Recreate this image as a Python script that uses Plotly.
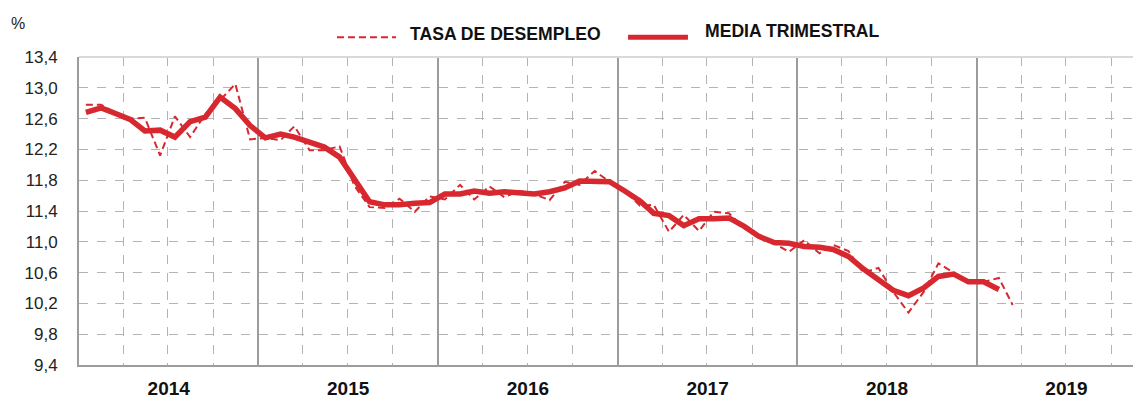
import pandas as pd
import plotly.graph_objects as go

# ---- data ----
start_month = "2014-01-01"
tasa_desempleo = [
    12.78, 12.78, 12.68, 12.60, 12.61, 12.12, 12.63, 12.36, 12.66, 12.84, 13.05, 12.33,
    12.35, 12.32, 12.50, 12.19, 12.19, 12.24, 11.73, 11.45, 11.44, 11.56, 11.39, 11.59,
    11.55, 11.74, 11.55, 11.72, 11.58, 11.66, 11.62, 11.54, 11.78, 11.74, 11.92, 11.78,
    11.66, 11.47, 11.48, 11.13, 11.35, 11.14, 11.39, 11.37, 11.18, 11.05, 10.98, 10.87,
    11.02, 10.85, 10.96, 10.88, 10.60, 10.66, 10.35, 10.08, 10.35, 10.72, 10.60, 10.46,
    10.48, 10.53, 10.18,
]
media_trimestral = [
    12.68, 12.74, 12.67, 12.59, 12.44, 12.45, 12.36, 12.56, 12.62, 12.88, 12.73, 12.51,
    12.35, 12.40, 12.36, 12.30, 12.23, 12.10, 11.80, 11.52, 11.48, 11.48, 11.50, 11.51,
    11.62, 11.62, 11.66, 11.63, 11.65, 11.63, 11.62, 11.65, 11.70, 11.79, 11.79, 11.78,
    11.66, 11.53, 11.37, 11.34, 11.21, 11.30, 11.30, 11.31, 11.20, 11.07, 10.99, 10.98,
    10.94, 10.93, 10.90, 10.81, 10.65, 10.50, 10.37, 10.30, 10.40, 10.55, 10.58, 10.48,
    10.48, 10.38,
]
y_min, y_max, y_step = 9.4, 13.4, 0.4
x_range = ["2014-01-01", "2019-12-01"]
series_names = ["TASA DE DESEMPLEO", "MEDIA TRIMESTRAL"]
unit_label = "%"

RED = "#D7282F"
GRID = "#b3b3b3"
AXIS = "#9c9c9c"
FONT = "Liberation Sans, Arial, sans-serif"


def mid_months(n):
    return pd.date_range(start_month, periods=n, freq="MS") + pd.Timedelta(days=14)


fig = go.Figure()
fig.add_trace(go.Scatter(
    x=mid_months(len(tasa_desempleo)), y=tasa_desempleo, mode="lines",
    name=series_names[0], line=dict(color=RED, width=2, dash="7px,4px"),
))
fig.add_trace(go.Scatter(
    x=mid_months(len(media_trimestral)), y=media_trimestral, mode="lines",
    name=series_names[1], line=dict(color=RED, width=5.5),
))

# page body has an 8px margin: figure is sized to fit inside the window
fig.update_layout(
    width=1133, height=392,
    margin=dict(l=71, r=0, t=49, b=35, autoexpand=False),
    paper_bgcolor="white", plot_bgcolor="white",
    separators=",.",
    showlegend=False,
    font=dict(family=FONT, color="#222222"),
)
fig.update_xaxes(
    type="date", range=x_range,
    tick0="2014-01-01", dtick="M12", ticklabelmode="period", tickformat="%Y",
    tickfont=dict(family=FONT, size=19, weight="bold", color="#111111"),
    showgrid=True, gridcolor=AXIS, gridwidth=2,
    minor=dict(dtick="M3", showgrid=True, gridcolor=GRID, griddash="dash", gridwidth=1),
    showline=True, linecolor=AXIS, linewidth=2,
    ticks="", zeroline=False, ticklabelstandoff=5, automargin=False,
)
fig.update_yaxes(
    range=[y_min, y_max], tick0=y_min, dtick=y_step, tickformat=".1f",
    tickfont=dict(family=FONT, size=17, color="#222222"),
    showgrid=True, gridcolor=GRID, griddash="dash", gridwidth=1,
    showline=True, linecolor=AXIS, linewidth=2,
    ticks="", zeroline=False, ticklabelstandoff=16, automargin=False,
)

# top border of plot area
fig.add_shape(type="line", xref="paper", yref="paper", x0=0, x1=1, y0=1, y1=1,
              line=dict(color="#d9d9d9", width=2))

# legend (manual, above the plot)
fig.add_shape(type="line", xref="paper", yref="paper", x0=0.2429, x1=0.2985,
              y0=1.064, y1=1.064, line=dict(color=RED, width=2, dash="7px,4px"))
fig.add_shape(type="line", xref="paper", yref="paper", x0=0.517, x1=0.5734,
              y0=1.064, y1=1.064, line=dict(color=RED, width=5))
fig.add_annotation(xref="paper", yref="paper", x=0.3098, y=1.0747, xanchor="left",
                   yanchor="middle", text=series_names[0], showarrow=False,
                   font=dict(family=FONT, size=17.6, weight="bold", color="#111111"))
fig.add_annotation(xref="paper", yref="paper", x=0.5876, y=1.0854, xanchor="left",
                   yanchor="middle", text=series_names[1], showarrow=False,
                   font=dict(family=FONT, size=17.6, weight="bold", color="#111111"))
fig.add_annotation(xref="paper", yref="paper", x=-0.057, y=1.1088, xanchor="center",
                   yanchor="middle", text=unit_label, showarrow=False,
                   font=dict(family=FONT, size=16, color="#222222"))

fig.write_html("out.html")
